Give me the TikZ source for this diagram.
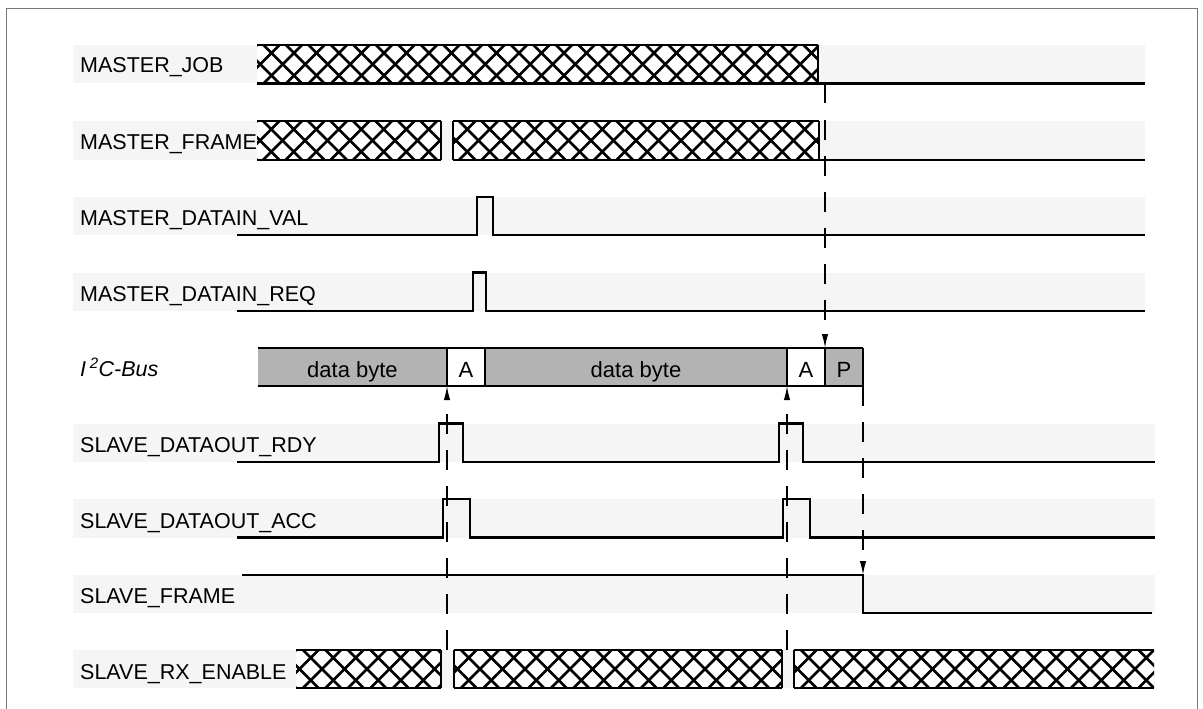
\documentclass[tikz,border=0pt]{standalone}
\usepackage{fontspec}
\setmainfont{Liberation Sans}
\usetikzlibrary{arrows.meta}
\definecolor{bandgray}{HTML}{F5F5F5}
\definecolor{busgray}{HTML}{B3B3B3}
\definecolor{framegray}{HTML}{777777}
\tikzset{
  lbl/.style={anchor=base west, inner sep=0pt, font=\fontsize{21.5}{25}\selectfont},
  bustxt/.style={anchor=base, inner sep=0pt, font=\fontsize{22}{25}\selectfont},
  band/.style={fill=bandgray, draw=none},
  sig/.style={line width=2.6pt, line join=miter},
  hatchln/.style={line width=2.5pt},
  hbord/.style={line width=2.8pt},
  busline/.style={line width=1.5pt},
  dsh/.style={line width=1.4pt, dash pattern=on 20pt off 16pt},
  arr/.style={-{Latex[length=14pt,width=6.5pt]}}
}
\newcommand\hatchbox[4]{%
  \begin{scope}
    \clip (#1,#2) rectangle (#3,#4);
    \fill[white] (#1,#2) rectangle (#3,#4);
    \pgfmathsetmacro\hh{#4-#2}
    \foreach \k in {0,...,32}{
      \pgfmathsetmacro\aa{#1-\hh+\k*22.5}
      \draw[hatchln] (\aa,#2) -- ++(\hh,\hh);
      \draw[hatchln] (\aa,#4) -- ++(\hh,-\hh);
    }
  \end{scope}
  \draw[hbord] (#1,#2) -- (#3,#2);
  \draw[hbord] (#1,#4) -- (#3,#4);
}
\begin{document}
\begin{tikzpicture}[x=1pt,y=-1pt]
\useasboundingbox (0,0) rectangle (1203,709);
\fill[white] (0,0) rectangle (1203,709);
% frame
\draw[framegray, line width=1pt] (6,720) -- (6,9) -- (1197,9) -- (1197,720);

% bands
\fill[band] (73,45) rectangle (1145,83.5);
\fill[band] (73,121) rectangle (1145,160);
\fill[band] (73,197) rectangle (1145,235);
\fill[band] (73,272.5) rectangle (1145,311);
\fill[band] (73,423.5) rectangle (1155,462);
\fill[band] (73,499) rectangle (1155,537.5);
\fill[band] (73,575) rectangle (1155,613);
\fill[band] (73,650) rectangle (1155,688);

% labels
\node[lbl] (lmj) at (80,73) {MASTER\_JOB};
\node[lbl] (lmf) at (80,149.5) {MASTER\_FRAME};
\node[lbl] (lval) at (80,225) {MASTER\_DATAIN\_VAL};
\node[lbl] (lreq) at (80,301) {MASTER\_DATAIN\_REQ};
\node[lbl] (lbus) at (80,376) {\textit{I\,\textsuperscript{2}C-Bus}};
\node[lbl] (lrdy) at (80,452) {SLAVE\_DATAOUT\_RDY};
\node[lbl] (lacc) at (80,528) {SLAVE\_DATAOUT\_ACC};
\node[lbl] (lsf) at (80,603) {SLAVE\_FRAME};
\node[lbl] (lrx) at (80,679) {SLAVE\_RX\_ENABLE};

% MASTER_JOB
\hatchbox{257}{45}{818}{83.5}
\draw[hbord] (818,45) -- (818,83.5);
\draw[sig] (818,83.5) -- (1145,83.5);

% MASTER_FRAME
\hatchbox{257}{121}{441}{160}
\draw[hbord] (441,121) -- (441,160);
\hatchbox{453}{121}{819}{160}
\draw[hbord] (453,121) -- (453,160);
\draw[hbord] (819,121) -- (819,160);
\draw[sig] (819,160) -- (1145,160);

% VAL / REQ
\draw[sig] (237,235) -- (477,235) -- (477,197) -- (493,197) -- (493,235) -- (1145,235);
\draw[sig] (237,311) -- (473,311) -- (473,272.5) -- (486,272.5) -- (486,311) -- (1145,311);

% I2C bus
\fill[busgray] (258,348) rectangle (447,386);
\fill[busgray] (485,348) rectangle (787,386);
\fill[busgray] (825,348) rectangle (863,386);
\draw[busline] (258,348) -- (863,348);
\draw[busline] (258,386) -- (863,386);
\foreach \xx in {447,485,787,825,863} \draw[busline] (\xx,348) -- (\xx,386);
\node[bustxt] (db1) at (352.5,377) {data byte};
\node[bustxt] (a1) at (466,377) {A};
\node[bustxt] (db2) at (636,377) {data byte};
\node[bustxt] (a2) at (806,377) {A};
\node[bustxt] (p) at (844,377) {P};

% RDY / ACC
\draw[sig] (237,462) -- (439,462) -- (439,423.5) -- (463,423.5) -- (463,462) -- (779,462) -- (779,423.5) -- (803,423.5) -- (803,462) -- (1155,462);
\draw[sig] (237,537.5) -- (443,537.5) -- (443,499) -- (470,499) -- (470,537.5) -- (783,537.5) -- (783,499) -- (810,499) -- (810,537.5) -- (1155,537.5);

% SLAVE_FRAME
\draw[sig] (242,575) -- (863,575) -- (863,613) -- (1152,613);

% SLAVE_RX_ENABLE
\hatchbox{296}{650}{441}{688}
\draw[hbord] (441,650) -- (441,688);
\hatchbox{454}{650}{782}{688}
\draw[hbord] (454,650) -- (454,688);
\draw[hbord] (782,650) -- (782,688);
\hatchbox{794}{650}{1154}{688}
\draw[hbord] (794,650) -- (794,688);

% dashed causal arrows
\coordinate (mjfall) at (825,83.5);
\coordinate (ptop) at (825,348);
\coordinate (rx1) at (447,650);
\coordinate (a1bot) at (447,386);
\coordinate (rx2) at (787,650);
\coordinate (a2bot) at (787,386);
\coordinate (pbot) at (863,386);
\coordinate (sffall) at (863,575);
\draw[dsh,arr] (mjfall) -- (ptop);
\draw[dsh,arr] (rx1) -- (a1bot);
\draw[dsh,arr] (rx2) -- (a2bot);
\draw[dsh,arr] (pbot) -- (sffall);
\end{tikzpicture}
\end{document}
